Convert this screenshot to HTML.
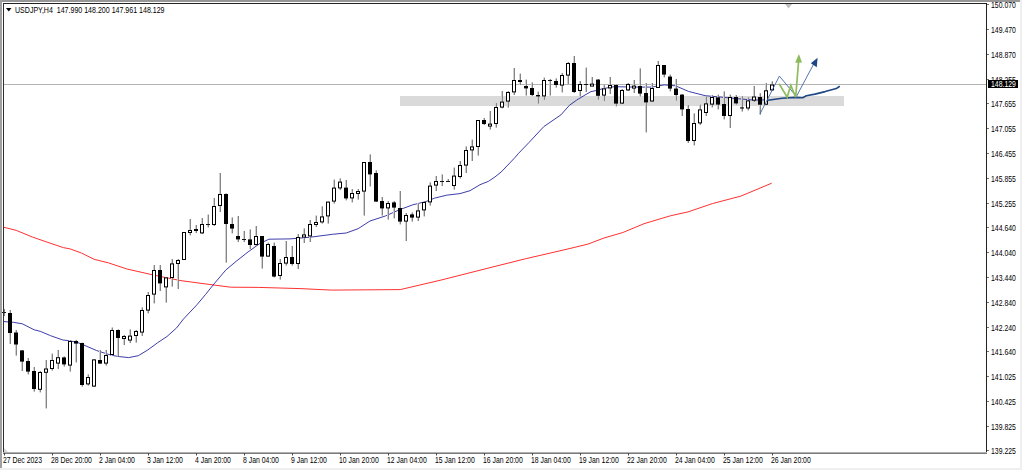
<!DOCTYPE html>
<html><head><meta charset="utf-8"><style>
html,body{margin:0;padding:0;width:1022px;height:470px;overflow:hidden;background:#fff}
#wrap{position:relative;width:1022px;height:470px}
svg{position:absolute;left:0;top:0}
.pl,.tl,.title{position:absolute;font-family:"Liberation Sans",sans-serif;font-size:8.6px;line-height:9px;color:#000;white-space:pre;transform:scaleX(0.8);transform-origin:0 0}
.pl{left:990.6px}
.cur{color:#fff}
.tl{top:455.6px}
.title{left:15px;top:5.6px;transform:scaleX(0.82)}
</style></head><body><div id="wrap">
<svg width="1022" height="470" viewBox="0 0 1022 470">
<rect x="0" y="0" width="1022" height="470" fill="#ffffff"/>
<rect x="0" y="0" width="1020" height="2" fill="#979797"/>
<rect x="0" y="0" width="2" height="470" fill="#a0a0a0"/>
<rect x="1020" y="0" width="2" height="470" fill="#efefef"/>
<rect x="0" y="468" width="1022" height="2" fill="#efefef"/>
<rect x="400" y="96" width="444" height="10" fill="#dadada"/>
<rect x="4" y="84" width="982" height="1" fill="#b4b4b4"/>
<polyline points="4.0,227.3 16.3,230.4 32.6,237.1 47.0,242.1 63.3,247.6 70.5,249.0 81.4,253.0 94.1,259.3 108.5,262.9 126.6,268.9 152.0,274.7 180.0,280.5 200.0,283.2 230.5,287.2 258.7,287.4 300.0,288.6 331.3,290.1 400.2,289.6 440.9,280.1 487.9,268.2 525.4,258.8 566.1,249.4 588.0,244.1 604.0,238.0 622.9,232.5 644.0,223.7 670.4,215.8 688.0,211.9 712.7,203.5 740.9,196.1 771.7,183.2" fill="none" stroke="#ff3030" stroke-width="1"/>
<polyline points="4.0,321.6 13.4,322.3 22.3,323.8 34.2,329.8 40.2,331.3 50.6,335.7 62.5,339.9 69.9,340.9 77.4,342.4 86.3,346.1 96.7,350.6 111.5,355.3 119.2,356.6 128.7,357.6 138.3,355.7 147.9,349.9 157.5,342.8 167.0,336.5 176.6,327.9 183.4,319.1 197.0,304.7 205.5,294.5 214.0,283.9 226.0,269.8 236.2,261.3 248.1,251.9 260.0,243.4 269.0,239.2 290.0,238.9 310.4,237.2 332.5,234.3 346.2,233.0 358.1,228.7 370.0,221.0 385.3,216.0 398.9,210.0 412.5,204.9 426.1,201.5 434.7,198.1 446.6,195.2 460.0,193.6 470.0,190.7 480.0,184.7 488.5,181.3 494.9,177.0 501.3,171.9 515.1,157.4 518.3,153.6 528.9,142.6 543.8,126.6 560.9,114.9 569.4,105.3 576.8,100.0 585.0,95.0 591.0,91.6 596.0,90.6 603.0,88.6 614.2,86.7 636.5,87.1 651.3,87.1 664.4,84.9 675.5,85.8 688.5,91.4 705.2,95.7 720.1,97.0 738.7,98.8 753.6,100.1 768.0,99.8" fill="none" stroke="#2727a0" stroke-width="0.9"/>
<rect x="4" y="309.0" width="1" height="7.0" fill="#858585"/>
<rect x="3" y="309.0" width="1" height="7.0" fill="#d0d0d0"/>
<rect x="2" y="312" width="4" height="1" fill="#111"/>
<rect x="10" y="310.0" width="1" height="34.0" fill="#858585"/>
<rect x="9" y="310.0" width="1" height="34.0" fill="#d0d0d0"/>
<rect x="8" y="313.0" width="4" height="20.0" fill="#000"/>
<rect x="16" y="330.0" width="1" height="25.600000000000023" fill="#858585"/>
<rect x="15" y="330.0" width="1" height="25.600000000000023" fill="#d0d0d0"/>
<rect x="14" y="332.5" width="4" height="12.0" fill="#000"/>
<rect x="22" y="350.0" width="1" height="21.0" fill="#858585"/>
<rect x="21" y="350.0" width="1" height="21.0" fill="#d0d0d0"/>
<rect x="20" y="350.4" width="4" height="11.200000000000045" fill="#000"/>
<rect x="28" y="358.0" width="1" height="16.399999999999977" fill="#858585"/>
<rect x="27" y="358.0" width="1" height="16.399999999999977" fill="#d0d0d0"/>
<rect x="26" y="361.0" width="4" height="10.600000000000023" fill="#000"/>
<rect x="34" y="367.0" width="1" height="24.600000000000023" fill="#858585"/>
<rect x="33" y="367.0" width="1" height="24.600000000000023" fill="#d0d0d0"/>
<rect x="32" y="371.0" width="4" height="18.0" fill="#000"/>
<rect x="40" y="371.0" width="1" height="21.399999999999977" fill="#858585"/>
<rect x="39" y="371.0" width="1" height="21.399999999999977" fill="#d0d0d0"/>
<rect x="38.5" y="372.5" width="3" height="16.80000000000001" fill="#fff" stroke="#000" stroke-width="1"/>
<rect x="46" y="360.0" width="1" height="48.39999999999998" fill="#858585"/>
<rect x="45" y="360.0" width="1" height="48.39999999999998" fill="#d0d0d0"/>
<rect x="44.5" y="369.0" width="3" height="3.3000000000000114" fill="#fff" stroke="#000" stroke-width="1"/>
<rect x="52" y="353.6" width="1" height="17.0" fill="#858585"/>
<rect x="51" y="353.6" width="1" height="17.0" fill="#d0d0d0"/>
<rect x="50.5" y="360.5" width="3" height="8.0" fill="#fff" stroke="#000" stroke-width="1"/>
<rect x="58" y="350.0" width="1" height="19.0" fill="#858585"/>
<rect x="57" y="350.0" width="1" height="19.0" fill="#d0d0d0"/>
<rect x="56.5" y="357.7" width="3" height="5.400000000000034" fill="#fff" stroke="#000" stroke-width="1"/>
<rect x="64" y="356.4" width="1" height="10.200000000000045" fill="#858585"/>
<rect x="63" y="356.4" width="1" height="10.200000000000045" fill="#d0d0d0"/>
<rect x="62" y="357.4" width="4" height="7.0" fill="#000"/>
<rect x="70" y="340.0" width="1" height="31.600000000000023" fill="#858585"/>
<rect x="69" y="340.0" width="1" height="31.600000000000023" fill="#d0d0d0"/>
<rect x="68.5" y="341.5" width="3" height="23.600000000000023" fill="#fff" stroke="#000" stroke-width="1"/>
<rect x="76" y="340.0" width="1" height="22.399999999999977" fill="#858585"/>
<rect x="75" y="340.0" width="1" height="22.399999999999977" fill="#d0d0d0"/>
<rect x="74" y="341.0" width="4" height="2.6000000000000227" fill="#000"/>
<rect x="82" y="342.6" width="1" height="44.0" fill="#858585"/>
<rect x="81" y="342.6" width="1" height="44.0" fill="#d0d0d0"/>
<rect x="80" y="343.0" width="4" height="42.0" fill="#000"/>
<rect x="88" y="374.4" width="1" height="11.200000000000045" fill="#858585"/>
<rect x="87" y="374.4" width="1" height="11.200000000000045" fill="#d0d0d0"/>
<rect x="86.5" y="377.5" width="3" height="6.399999999999977" fill="#fff" stroke="#000" stroke-width="1"/>
<rect x="94" y="359.0" width="1" height="28.0" fill="#858585"/>
<rect x="93" y="359.0" width="1" height="28.0" fill="#d0d0d0"/>
<rect x="92.5" y="359.9" width="3" height="26.200000000000045" fill="#fff" stroke="#000" stroke-width="1"/>
<rect x="100" y="350.0" width="1" height="14.0" fill="#858585"/>
<rect x="99" y="350.0" width="1" height="14.0" fill="#d0d0d0"/>
<rect x="98" y="360.0" width="4" height="3.6000000000000227" fill="#000"/>
<rect x="106" y="350.0" width="1" height="15.600000000000023" fill="#858585"/>
<rect x="105" y="350.0" width="1" height="15.600000000000023" fill="#d0d0d0"/>
<rect x="104.5" y="355.5" width="3" height="7.600000000000023" fill="#fff" stroke="#000" stroke-width="1"/>
<rect x="112" y="327.5" width="1" height="28.5" fill="#858585"/>
<rect x="111" y="327.5" width="1" height="28.5" fill="#d0d0d0"/>
<rect x="110.5" y="330.5" width="3" height="24.0" fill="#fff" stroke="#000" stroke-width="1"/>
<rect x="118" y="329.4" width="1" height="27.0" fill="#858585"/>
<rect x="117" y="329.4" width="1" height="27.0" fill="#d0d0d0"/>
<rect x="116" y="330.0" width="4" height="8.0" fill="#000"/>
<rect x="124" y="335.0" width="1" height="10.0" fill="#858585"/>
<rect x="123" y="335.0" width="1" height="10.0" fill="#d0d0d0"/>
<rect x="122.5" y="336.5" width="3" height="2" fill="#fff" stroke="#000" stroke-width="1"/>
<rect x="130" y="329.4" width="1" height="13.600000000000023" fill="#858585"/>
<rect x="129" y="329.4" width="1" height="13.600000000000023" fill="#d0d0d0"/>
<rect x="128.5" y="336.1" width="3" height="4.0" fill="#fff" stroke="#000" stroke-width="1"/>
<rect x="136" y="330.0" width="1" height="12.600000000000023" fill="#858585"/>
<rect x="135" y="330.0" width="1" height="12.600000000000023" fill="#d0d0d0"/>
<rect x="134.5" y="331.5" width="3" height="4.0" fill="#fff" stroke="#000" stroke-width="1"/>
<rect x="142" y="307.4" width="1" height="28.600000000000023" fill="#858585"/>
<rect x="141" y="307.4" width="1" height="28.600000000000023" fill="#d0d0d0"/>
<rect x="140.5" y="310.5" width="3" height="21.600000000000023" fill="#fff" stroke="#000" stroke-width="1"/>
<rect x="148" y="292.0" width="1" height="21.399999999999977" fill="#858585"/>
<rect x="147" y="292.0" width="1" height="21.399999999999977" fill="#d0d0d0"/>
<rect x="146.5" y="295.5" width="3" height="14.600000000000023" fill="#fff" stroke="#000" stroke-width="1"/>
<rect x="154" y="265.0" width="1" height="38.39999999999998" fill="#858585"/>
<rect x="153" y="265.0" width="1" height="38.39999999999998" fill="#d0d0d0"/>
<rect x="152.5" y="270.5" width="3" height="23.600000000000023" fill="#fff" stroke="#000" stroke-width="1"/>
<rect x="160" y="265.0" width="1" height="26.0" fill="#858585"/>
<rect x="159" y="265.0" width="1" height="26.0" fill="#d0d0d0"/>
<rect x="158" y="270.0" width="4" height="13.399999999999977" fill="#000"/>
<rect x="166" y="277.4" width="1" height="25.200000000000045" fill="#858585"/>
<rect x="165" y="277.4" width="1" height="25.200000000000045" fill="#d0d0d0"/>
<rect x="164.5" y="277.9" width="3" height="9.0" fill="#fff" stroke="#000" stroke-width="1"/>
<rect x="172" y="259.0" width="1" height="27.600000000000023" fill="#858585"/>
<rect x="171" y="259.0" width="1" height="27.600000000000023" fill="#d0d0d0"/>
<rect x="170.5" y="263.9" width="3" height="13.600000000000023" fill="#fff" stroke="#000" stroke-width="1"/>
<rect x="178" y="259.0" width="1" height="30.0" fill="#858585"/>
<rect x="177" y="259.0" width="1" height="30.0" fill="#d0d0d0"/>
<rect x="176.5" y="260.5" width="3" height="3.0" fill="#fff" stroke="#000" stroke-width="1"/>
<rect x="184" y="232.0" width="1" height="28.0" fill="#858585"/>
<rect x="183" y="232.0" width="1" height="28.0" fill="#d0d0d0"/>
<rect x="182.5" y="232.5" width="3" height="27.0" fill="#fff" stroke="#000" stroke-width="1"/>
<rect x="190" y="219.0" width="1" height="16.400000000000006" fill="#858585"/>
<rect x="189" y="219.0" width="1" height="16.400000000000006" fill="#d0d0d0"/>
<rect x="188.5" y="230.5" width="3" height="2" fill="#fff" stroke="#000" stroke-width="1"/>
<rect x="196" y="225.0" width="1" height="8.0" fill="#858585"/>
<rect x="195" y="225.0" width="1" height="8.0" fill="#d0d0d0"/>
<rect x="194" y="229.0" width="4" height="2.0" fill="#000"/>
<rect x="202" y="218.0" width="1" height="16.0" fill="#858585"/>
<rect x="201" y="218.0" width="1" height="16.0" fill="#d0d0d0"/>
<rect x="200.5" y="224.5" width="3" height="8.400000000000006" fill="#fff" stroke="#000" stroke-width="1"/>
<rect x="208" y="214.6" width="1" height="12.800000000000011" fill="#858585"/>
<rect x="207" y="214.6" width="1" height="12.800000000000011" fill="#d0d0d0"/>
<rect x="206" y="224" width="4" height="1" fill="#111"/>
<rect x="214" y="198.0" width="1" height="28.0" fill="#858585"/>
<rect x="213" y="198.0" width="1" height="28.0" fill="#d0d0d0"/>
<rect x="212.5" y="206.5" width="3" height="18.0" fill="#fff" stroke="#000" stroke-width="1"/>
<rect x="220" y="173.0" width="1" height="39.0" fill="#858585"/>
<rect x="219" y="173.0" width="1" height="39.0" fill="#d0d0d0"/>
<rect x="218.5" y="194.5" width="3" height="11.0" fill="#fff" stroke="#000" stroke-width="1"/>
<rect x="226" y="193.4" width="1" height="69.20000000000002" fill="#858585"/>
<rect x="225" y="193.4" width="1" height="69.20000000000002" fill="#d0d0d0"/>
<rect x="224" y="194.0" width="4" height="30.0" fill="#000"/>
<rect x="232" y="217.4" width="1" height="16.0" fill="#858585"/>
<rect x="231" y="217.4" width="1" height="16.0" fill="#d0d0d0"/>
<rect x="230" y="224.0" width="4" height="4.599999999999994" fill="#000"/>
<rect x="238" y="216.0" width="1" height="26.0" fill="#858585"/>
<rect x="237" y="216.0" width="1" height="26.0" fill="#d0d0d0"/>
<rect x="236" y="236.0" width="4" height="3.4000000000000057" fill="#000"/>
<rect x="244" y="231.0" width="1" height="11.0" fill="#858585"/>
<rect x="243" y="231.0" width="1" height="11.0" fill="#d0d0d0"/>
<rect x="242" y="239" width="4" height="1" fill="#111"/>
<rect x="250" y="229.4" width="1" height="19.599999999999994" fill="#858585"/>
<rect x="249" y="229.4" width="1" height="19.599999999999994" fill="#d0d0d0"/>
<rect x="248" y="239.4" width="4" height="5.599999999999994" fill="#000"/>
<rect x="256" y="226.0" width="1" height="20.0" fill="#858585"/>
<rect x="255" y="226.0" width="1" height="20.0" fill="#d0d0d0"/>
<rect x="254.5" y="236.5" width="3" height="8.0" fill="#fff" stroke="#000" stroke-width="1"/>
<rect x="262" y="236.0" width="1" height="32.60000000000002" fill="#858585"/>
<rect x="261" y="236.0" width="1" height="32.60000000000002" fill="#d0d0d0"/>
<rect x="260" y="236.0" width="4" height="20.600000000000023" fill="#000"/>
<rect x="268" y="242.6" width="1" height="14.400000000000006" fill="#858585"/>
<rect x="267" y="242.6" width="1" height="14.400000000000006" fill="#d0d0d0"/>
<rect x="266.5" y="244.5" width="3" height="11.600000000000023" fill="#fff" stroke="#000" stroke-width="1"/>
<rect x="274" y="242.6" width="1" height="34.79999999999998" fill="#858585"/>
<rect x="273" y="242.6" width="1" height="34.79999999999998" fill="#d0d0d0"/>
<rect x="272" y="246.0" width="4" height="30.600000000000023" fill="#000"/>
<rect x="280" y="259.0" width="1" height="20.600000000000023" fill="#858585"/>
<rect x="279" y="259.0" width="1" height="20.600000000000023" fill="#d0d0d0"/>
<rect x="278.5" y="263.5" width="3" height="12.0" fill="#fff" stroke="#000" stroke-width="1"/>
<rect x="286" y="241.0" width="1" height="24.600000000000023" fill="#858585"/>
<rect x="285" y="241.0" width="1" height="24.600000000000023" fill="#d0d0d0"/>
<rect x="284.5" y="257.5" width="3" height="5.600000000000023" fill="#fff" stroke="#000" stroke-width="1"/>
<rect x="292" y="246.0" width="1" height="19.600000000000023" fill="#858585"/>
<rect x="291" y="246.0" width="1" height="19.600000000000023" fill="#d0d0d0"/>
<rect x="290" y="257.0" width="4" height="7.0" fill="#000"/>
<rect x="298" y="234.0" width="1" height="35.0" fill="#858585"/>
<rect x="297" y="234.0" width="1" height="35.0" fill="#d0d0d0"/>
<rect x="296.5" y="237.5" width="3" height="26.0" fill="#fff" stroke="#000" stroke-width="1"/>
<rect x="304" y="228.4" width="1" height="14.599999999999994" fill="#858585"/>
<rect x="303" y="228.4" width="1" height="14.599999999999994" fill="#d0d0d0"/>
<rect x="302.5" y="234.9" width="3" height="2.1999999999999886" fill="#fff" stroke="#000" stroke-width="1"/>
<rect x="310" y="220.0" width="1" height="22.0" fill="#858585"/>
<rect x="309" y="220.0" width="1" height="22.0" fill="#d0d0d0"/>
<rect x="308.5" y="224.5" width="3" height="11.400000000000006" fill="#fff" stroke="#000" stroke-width="1"/>
<rect x="316" y="215.6" width="1" height="11.400000000000006" fill="#858585"/>
<rect x="315" y="215.6" width="1" height="11.400000000000006" fill="#d0d0d0"/>
<rect x="314.5" y="222.5" width="3" height="2" fill="#fff" stroke="#000" stroke-width="1"/>
<rect x="322" y="206.4" width="1" height="17.19999999999999" fill="#858585"/>
<rect x="321" y="206.4" width="1" height="17.19999999999999" fill="#d0d0d0"/>
<rect x="320.5" y="216.9" width="3" height="5.0" fill="#fff" stroke="#000" stroke-width="1"/>
<rect x="328" y="201.6" width="1" height="22.0" fill="#858585"/>
<rect x="327" y="201.6" width="1" height="22.0" fill="#d0d0d0"/>
<rect x="326.5" y="202.1" width="3" height="13.800000000000011" fill="#fff" stroke="#000" stroke-width="1"/>
<rect x="334" y="179.6" width="1" height="24.0" fill="#858585"/>
<rect x="333" y="179.6" width="1" height="24.0" fill="#d0d0d0"/>
<rect x="332.5" y="188.1" width="3" height="13.0" fill="#fff" stroke="#000" stroke-width="1"/>
<rect x="340" y="178.4" width="1" height="11.599999999999994" fill="#858585"/>
<rect x="339" y="178.4" width="1" height="11.599999999999994" fill="#d0d0d0"/>
<rect x="338.5" y="182.1" width="3" height="5.800000000000011" fill="#fff" stroke="#000" stroke-width="1"/>
<rect x="346" y="180.0" width="1" height="20.400000000000006" fill="#858585"/>
<rect x="345" y="180.0" width="1" height="20.400000000000006" fill="#d0d0d0"/>
<rect x="344" y="187.6" width="4" height="10.800000000000011" fill="#000"/>
<rect x="352" y="189.0" width="1" height="13.400000000000006" fill="#858585"/>
<rect x="351" y="189.0" width="1" height="13.400000000000006" fill="#d0d0d0"/>
<rect x="350.5" y="193.5" width="3" height="4.400000000000006" fill="#fff" stroke="#000" stroke-width="1"/>
<rect x="358" y="189.0" width="1" height="10.599999999999994" fill="#858585"/>
<rect x="357" y="189.0" width="1" height="10.599999999999994" fill="#d0d0d0"/>
<rect x="356.5" y="191.5" width="3" height="2" fill="#fff" stroke="#000" stroke-width="1"/>
<rect x="364" y="162.0" width="1" height="53.599999999999994" fill="#858585"/>
<rect x="363" y="162.0" width="1" height="53.599999999999994" fill="#d0d0d0"/>
<rect x="362.5" y="162.5" width="3" height="28.599999999999994" fill="#fff" stroke="#000" stroke-width="1"/>
<rect x="370" y="154.4" width="1" height="32.0" fill="#858585"/>
<rect x="369" y="154.4" width="1" height="32.0" fill="#d0d0d0"/>
<rect x="368" y="162.0" width="4" height="12.400000000000006" fill="#000"/>
<rect x="376" y="170.4" width="1" height="31.599999999999994" fill="#858585"/>
<rect x="375" y="170.4" width="1" height="31.599999999999994" fill="#d0d0d0"/>
<rect x="374" y="173.0" width="4" height="28.599999999999994" fill="#000"/>
<rect x="382" y="197.0" width="1" height="18.599999999999994" fill="#858585"/>
<rect x="381" y="197.0" width="1" height="18.599999999999994" fill="#d0d0d0"/>
<rect x="380" y="201.0" width="4" height="7.400000000000006" fill="#000"/>
<rect x="388" y="201.0" width="1" height="18.599999999999994" fill="#858585"/>
<rect x="387" y="201.0" width="1" height="18.599999999999994" fill="#d0d0d0"/>
<rect x="386.5" y="203.5" width="3" height="4.400000000000006" fill="#fff" stroke="#000" stroke-width="1"/>
<rect x="394" y="201.0" width="1" height="17.400000000000006" fill="#858585"/>
<rect x="393" y="201.0" width="1" height="17.400000000000006" fill="#d0d0d0"/>
<rect x="392" y="202.4" width="4" height="5.199999999999989" fill="#000"/>
<rect x="400" y="191.0" width="1" height="33.400000000000006" fill="#858585"/>
<rect x="399" y="191.0" width="1" height="33.400000000000006" fill="#d0d0d0"/>
<rect x="398" y="208.0" width="4" height="13.599999999999994" fill="#000"/>
<rect x="406" y="213.0" width="1" height="28.0" fill="#858585"/>
<rect x="405" y="213.0" width="1" height="28.0" fill="#d0d0d0"/>
<rect x="404.5" y="215.5" width="3" height="5.599999999999994" fill="#fff" stroke="#000" stroke-width="1"/>
<rect x="412" y="212.4" width="1" height="9.199999999999989" fill="#858585"/>
<rect x="411" y="212.4" width="1" height="9.199999999999989" fill="#d0d0d0"/>
<rect x="410" y="214.4" width="4" height="3.1999999999999886" fill="#000"/>
<rect x="418" y="203.0" width="1" height="18.0" fill="#858585"/>
<rect x="417" y="203.0" width="1" height="18.0" fill="#d0d0d0"/>
<rect x="416.5" y="210.9" width="3" height="6.199999999999989" fill="#fff" stroke="#000" stroke-width="1"/>
<rect x="424" y="201.0" width="1" height="15.400000000000006" fill="#858585"/>
<rect x="423" y="201.0" width="1" height="15.400000000000006" fill="#d0d0d0"/>
<rect x="422.5" y="202.5" width="3" height="7.400000000000006" fill="#fff" stroke="#000" stroke-width="1"/>
<rect x="430" y="182.4" width="1" height="23.19999999999999" fill="#858585"/>
<rect x="429" y="182.4" width="1" height="23.19999999999999" fill="#d0d0d0"/>
<rect x="428.5" y="186.1" width="3" height="15.800000000000011" fill="#fff" stroke="#000" stroke-width="1"/>
<rect x="436" y="176.0" width="1" height="15.0" fill="#858585"/>
<rect x="435" y="176.0" width="1" height="15.0" fill="#d0d0d0"/>
<rect x="434.5" y="181.5" width="3" height="3.5999999999999943" fill="#fff" stroke="#000" stroke-width="1"/>
<rect x="442" y="174.4" width="1" height="11.599999999999994" fill="#858585"/>
<rect x="441" y="174.4" width="1" height="11.599999999999994" fill="#d0d0d0"/>
<rect x="440" y="181" width="4" height="1" fill="#111"/>
<rect x="448" y="179.0" width="1" height="3.0" fill="#858585"/>
<rect x="447" y="179.0" width="1" height="3.0" fill="#d0d0d0"/>
<rect x="446" y="181" width="4" height="1" fill="#111"/>
<rect x="454" y="167.6" width="1" height="22.0" fill="#858585"/>
<rect x="453" y="167.6" width="1" height="22.0" fill="#d0d0d0"/>
<rect x="452.5" y="176.1" width="3" height="9.400000000000006" fill="#fff" stroke="#000" stroke-width="1"/>
<rect x="460" y="161.0" width="1" height="17.5" fill="#858585"/>
<rect x="459" y="161.0" width="1" height="17.5" fill="#d0d0d0"/>
<rect x="458.5" y="165.5" width="3" height="11.0" fill="#fff" stroke="#000" stroke-width="1"/>
<rect x="466" y="146.4" width="1" height="26.599999999999994" fill="#858585"/>
<rect x="465" y="146.4" width="1" height="26.599999999999994" fill="#d0d0d0"/>
<rect x="464.5" y="150.5" width="3" height="14.599999999999994" fill="#fff" stroke="#000" stroke-width="1"/>
<rect x="472" y="139.6" width="1" height="21.400000000000006" fill="#858585"/>
<rect x="471" y="139.6" width="1" height="21.400000000000006" fill="#d0d0d0"/>
<rect x="470.5" y="146.9" width="3" height="3.0" fill="#fff" stroke="#000" stroke-width="1"/>
<rect x="478" y="120.0" width="1" height="35.599999999999994" fill="#858585"/>
<rect x="477" y="120.0" width="1" height="35.599999999999994" fill="#d0d0d0"/>
<rect x="476.5" y="120.5" width="3" height="26.0" fill="#fff" stroke="#000" stroke-width="1"/>
<rect x="484" y="118.0" width="1" height="7.0" fill="#858585"/>
<rect x="483" y="118.0" width="1" height="7.0" fill="#d0d0d0"/>
<rect x="482" y="120.0" width="4" height="4.0" fill="#000"/>
<rect x="490" y="111.0" width="1" height="18.599999999999994" fill="#858585"/>
<rect x="489" y="111.0" width="1" height="18.599999999999994" fill="#d0d0d0"/>
<rect x="488.5" y="124.1" width="3" height="2" fill="#fff" stroke="#000" stroke-width="1"/>
<rect x="496" y="103.0" width="1" height="24.599999999999994" fill="#858585"/>
<rect x="495" y="103.0" width="1" height="24.599999999999994" fill="#d0d0d0"/>
<rect x="494.5" y="107.5" width="3" height="16.0" fill="#fff" stroke="#000" stroke-width="1"/>
<rect x="502" y="91.0" width="1" height="17.400000000000006" fill="#858585"/>
<rect x="501" y="91.0" width="1" height="17.400000000000006" fill="#d0d0d0"/>
<rect x="500.5" y="102.1" width="3" height="5.0" fill="#fff" stroke="#000" stroke-width="1"/>
<rect x="508" y="91.0" width="1" height="16.599999999999994" fill="#858585"/>
<rect x="507" y="91.0" width="1" height="16.599999999999994" fill="#d0d0d0"/>
<rect x="506.5" y="92.5" width="3" height="8.599999999999994" fill="#fff" stroke="#000" stroke-width="1"/>
<rect x="514" y="68.0" width="1" height="27.0" fill="#858585"/>
<rect x="513" y="68.0" width="1" height="27.0" fill="#d0d0d0"/>
<rect x="512.5" y="80.5" width="3" height="11.400000000000006" fill="#fff" stroke="#000" stroke-width="1"/>
<rect x="520" y="73.6" width="1" height="11.400000000000006" fill="#858585"/>
<rect x="519" y="73.6" width="1" height="11.400000000000006" fill="#d0d0d0"/>
<rect x="518" y="80.0" width="4" height="2.0" fill="#000"/>
<rect x="526" y="79.6" width="1" height="16.0" fill="#858585"/>
<rect x="525" y="79.6" width="1" height="16.0" fill="#d0d0d0"/>
<rect x="524" y="86.0" width="4" height="2.4000000000000057" fill="#000"/>
<rect x="532" y="82.4" width="1" height="13.599999999999994" fill="#858585"/>
<rect x="531" y="82.4" width="1" height="13.599999999999994" fill="#d0d0d0"/>
<rect x="530" y="88.0" width="4" height="7.0" fill="#000"/>
<rect x="538" y="91.6" width="1" height="12.0" fill="#858585"/>
<rect x="537" y="91.6" width="1" height="12.0" fill="#d0d0d0"/>
<rect x="536" y="95.0" width="4" height="1.4000000000000057" fill="#000"/>
<rect x="544" y="77.6" width="1" height="22.400000000000006" fill="#858585"/>
<rect x="543" y="77.6" width="1" height="22.400000000000006" fill="#d0d0d0"/>
<rect x="542.5" y="80.5" width="3" height="15.400000000000006" fill="#fff" stroke="#000" stroke-width="1"/>
<rect x="550" y="79.0" width="1" height="16.599999999999994" fill="#858585"/>
<rect x="549" y="79.0" width="1" height="16.599999999999994" fill="#d0d0d0"/>
<rect x="548" y="80" width="4" height="1" fill="#111"/>
<rect x="556" y="78.4" width="1" height="9.199999999999989" fill="#858585"/>
<rect x="555" y="78.4" width="1" height="9.199999999999989" fill="#d0d0d0"/>
<rect x="554" y="81.0" width="4" height="4.0" fill="#000"/>
<rect x="562" y="73.0" width="1" height="19.400000000000006" fill="#858585"/>
<rect x="561" y="73.0" width="1" height="19.400000000000006" fill="#d0d0d0"/>
<rect x="560.5" y="75.5" width="3" height="9.599999999999994" fill="#fff" stroke="#000" stroke-width="1"/>
<rect x="568" y="62.0" width="1" height="22.0" fill="#858585"/>
<rect x="567" y="62.0" width="1" height="22.0" fill="#d0d0d0"/>
<rect x="566.5" y="63.5" width="3" height="11.599999999999994" fill="#fff" stroke="#000" stroke-width="1"/>
<rect x="574" y="56.0" width="1" height="37.0" fill="#858585"/>
<rect x="573" y="56.0" width="1" height="37.0" fill="#d0d0d0"/>
<rect x="572" y="63.0" width="4" height="29.0" fill="#000"/>
<rect x="580" y="81.0" width="1" height="15.400000000000006" fill="#858585"/>
<rect x="579" y="81.0" width="1" height="15.400000000000006" fill="#d0d0d0"/>
<rect x="578.5" y="84.5" width="3" height="6.0" fill="#fff" stroke="#000" stroke-width="1"/>
<rect x="586" y="67.6" width="1" height="24.400000000000006" fill="#858585"/>
<rect x="585" y="67.6" width="1" height="24.400000000000006" fill="#d0d0d0"/>
<rect x="584" y="84" width="4" height="1" fill="#111"/>
<rect x="592" y="77.0" width="1" height="9.0" fill="#858585"/>
<rect x="591" y="77.0" width="1" height="9.0" fill="#d0d0d0"/>
<rect x="590.5" y="84.1" width="3" height="2" fill="#fff" stroke="#000" stroke-width="1"/>
<rect x="598" y="79.0" width="1" height="20.599999999999994" fill="#858585"/>
<rect x="597" y="79.0" width="1" height="20.599999999999994" fill="#d0d0d0"/>
<rect x="596" y="79.6" width="4" height="16.200000000000003" fill="#000"/>
<rect x="604" y="85.0" width="1" height="16.0" fill="#858585"/>
<rect x="603" y="85.0" width="1" height="16.0" fill="#d0d0d0"/>
<rect x="602.5" y="88.9" width="3" height="6.199999999999989" fill="#fff" stroke="#000" stroke-width="1"/>
<rect x="610" y="77.0" width="1" height="17.0" fill="#858585"/>
<rect x="609" y="77.0" width="1" height="17.0" fill="#d0d0d0"/>
<rect x="608.5" y="85.5" width="3" height="2.4000000000000057" fill="#fff" stroke="#000" stroke-width="1"/>
<rect x="616" y="84.4" width="1" height="22.0" fill="#858585"/>
<rect x="615" y="84.4" width="1" height="22.0" fill="#d0d0d0"/>
<rect x="614" y="85.0" width="4" height="18.599999999999994" fill="#000"/>
<rect x="622" y="89.0" width="1" height="15.0" fill="#858585"/>
<rect x="621" y="89.0" width="1" height="15.0" fill="#d0d0d0"/>
<rect x="620.5" y="90.5" width="3" height="12.599999999999994" fill="#fff" stroke="#000" stroke-width="1"/>
<rect x="628" y="83.0" width="1" height="8.0" fill="#858585"/>
<rect x="627" y="83.0" width="1" height="8.0" fill="#d0d0d0"/>
<rect x="626.5" y="84.5" width="3" height="5.400000000000006" fill="#fff" stroke="#000" stroke-width="1"/>
<rect x="634" y="80.0" width="1" height="13.0" fill="#858585"/>
<rect x="633" y="80.0" width="1" height="13.0" fill="#d0d0d0"/>
<rect x="632.5" y="86.1" width="3" height="2" fill="#fff" stroke="#000" stroke-width="1"/>
<rect x="640" y="68.4" width="1" height="28.0" fill="#858585"/>
<rect x="639" y="68.4" width="1" height="28.0" fill="#d0d0d0"/>
<rect x="638" y="86.0" width="4" height="7.599999999999994" fill="#000"/>
<rect x="646" y="83.0" width="1" height="49.400000000000006" fill="#858585"/>
<rect x="645" y="83.0" width="1" height="49.400000000000006" fill="#d0d0d0"/>
<rect x="644" y="93.0" width="4" height="9.400000000000006" fill="#000"/>
<rect x="652" y="83.0" width="1" height="19.0" fill="#858585"/>
<rect x="651" y="83.0" width="1" height="19.0" fill="#d0d0d0"/>
<rect x="650.5" y="88.5" width="3" height="12.5" fill="#fff" stroke="#000" stroke-width="1"/>
<rect x="658" y="61.0" width="1" height="27.0" fill="#858585"/>
<rect x="657" y="61.0" width="1" height="27.0" fill="#d0d0d0"/>
<rect x="656.5" y="65.5" width="3" height="22.0" fill="#fff" stroke="#000" stroke-width="1"/>
<rect x="664" y="65.0" width="1" height="12.400000000000006" fill="#858585"/>
<rect x="663" y="65.0" width="1" height="12.400000000000006" fill="#d0d0d0"/>
<rect x="662" y="65.0" width="4" height="9.599999999999994" fill="#000"/>
<rect x="670" y="74.6" width="1" height="16.80000000000001" fill="#858585"/>
<rect x="669" y="74.6" width="1" height="16.80000000000001" fill="#d0d0d0"/>
<rect x="668" y="76.6" width="4" height="12.0" fill="#000"/>
<rect x="676" y="79.0" width="1" height="21.599999999999994" fill="#858585"/>
<rect x="675" y="79.0" width="1" height="21.599999999999994" fill="#d0d0d0"/>
<rect x="674" y="88.6" width="4" height="6.400000000000006" fill="#000"/>
<rect x="682" y="94.0" width="1" height="22.0" fill="#858585"/>
<rect x="681" y="94.0" width="1" height="22.0" fill="#d0d0d0"/>
<rect x="680" y="94.6" width="4" height="14.800000000000011" fill="#000"/>
<rect x="688" y="105.0" width="1" height="38.0" fill="#858585"/>
<rect x="687" y="105.0" width="1" height="38.0" fill="#d0d0d0"/>
<rect x="686" y="109.0" width="4" height="32.0" fill="#000"/>
<rect x="694" y="113.4" width="1" height="32.0" fill="#858585"/>
<rect x="693" y="113.4" width="1" height="32.0" fill="#d0d0d0"/>
<rect x="692.5" y="123.5" width="3" height="17.0" fill="#fff" stroke="#000" stroke-width="1"/>
<rect x="700" y="104.6" width="1" height="20.400000000000006" fill="#858585"/>
<rect x="699" y="104.6" width="1" height="20.400000000000006" fill="#d0d0d0"/>
<rect x="698.5" y="109.9" width="3" height="13.0" fill="#fff" stroke="#000" stroke-width="1"/>
<rect x="706" y="96.6" width="1" height="19.400000000000006" fill="#858585"/>
<rect x="705" y="96.6" width="1" height="19.400000000000006" fill="#d0d0d0"/>
<rect x="704.5" y="103.9" width="3" height="8.599999999999994" fill="#fff" stroke="#000" stroke-width="1"/>
<rect x="712" y="95.0" width="1" height="12.400000000000006" fill="#858585"/>
<rect x="711" y="95.0" width="1" height="12.400000000000006" fill="#d0d0d0"/>
<rect x="710.5" y="97.5" width="3" height="6.599999999999994" fill="#fff" stroke="#000" stroke-width="1"/>
<rect x="718" y="94.6" width="1" height="14.800000000000011" fill="#858585"/>
<rect x="717" y="94.6" width="1" height="14.800000000000011" fill="#d0d0d0"/>
<rect x="716" y="97.4" width="4" height="7.199999999999989" fill="#000"/>
<rect x="724" y="91.4" width="1" height="28.0" fill="#858585"/>
<rect x="723" y="91.4" width="1" height="28.0" fill="#d0d0d0"/>
<rect x="722" y="104.0" width="4" height="12.0" fill="#000"/>
<rect x="730" y="94.6" width="1" height="33.400000000000006" fill="#858585"/>
<rect x="729" y="94.6" width="1" height="33.400000000000006" fill="#d0d0d0"/>
<rect x="728.5" y="97.5" width="3" height="18.0" fill="#fff" stroke="#000" stroke-width="1"/>
<rect x="736" y="95.0" width="1" height="9.599999999999994" fill="#858585"/>
<rect x="735" y="95.0" width="1" height="9.599999999999994" fill="#d0d0d0"/>
<rect x="734" y="97.0" width="4" height="6.400000000000006" fill="#000"/>
<rect x="742" y="96.2" width="1" height="15.399999999999991" fill="#858585"/>
<rect x="741" y="96.2" width="1" height="15.399999999999991" fill="#d0d0d0"/>
<rect x="740" y="107.4" width="4" height="1.0999999999999943" fill="#000"/>
<rect x="748" y="97.4" width="1" height="13.099999999999994" fill="#858585"/>
<rect x="747" y="97.4" width="1" height="13.099999999999994" fill="#d0d0d0"/>
<rect x="746.5" y="100.9" width="3" height="7.099999999999994" fill="#fff" stroke="#000" stroke-width="1"/>
<rect x="754" y="86.0" width="1" height="16.0" fill="#858585"/>
<rect x="753" y="86.0" width="1" height="16.0" fill="#d0d0d0"/>
<rect x="752.5" y="97.0" width="3" height="3.200000000000003" fill="#fff" stroke="#000" stroke-width="1"/>
<rect x="760" y="93.2" width="1" height="21.5" fill="#858585"/>
<rect x="759" y="93.2" width="1" height="21.5" fill="#d0d0d0"/>
<rect x="758" y="97.0" width="4" height="7.700000000000003" fill="#000"/>
<rect x="766" y="83.0" width="1" height="22.0" fill="#858585"/>
<rect x="765" y="83.0" width="1" height="22.0" fill="#d0d0d0"/>
<rect x="764.5" y="90.8" width="3" height="13.400000000000006" fill="#fff" stroke="#000" stroke-width="1"/>
<rect x="772" y="81.3" width="1" height="9.700000000000003" fill="#858585"/>
<rect x="771" y="81.3" width="1" height="9.700000000000003" fill="#d0d0d0"/>
<rect x="770.5" y="85.0" width="3" height="4.900000000000006" fill="#fff" stroke="#000" stroke-width="1"/>
<polyline points="768.0,100.2 782.1,98.3 795.4,97.4 802.7,97.7 806.3,95.8 815.0,94.1 825.2,91.6 836.3,88.6 839.3,86.5" fill="none" stroke="#1f4783" stroke-width="1.6" stroke-linejoin="round" stroke-linecap="round"/>
<polyline points="760,113.9 779.4,76.1 796.4,96.5 814.5,62.5" fill="none" stroke="#4168a6" stroke-width="0.9"/>
<polygon points="817.6,57.8 810.8,63.2 816.8,67.2" fill="#1f4783"/>
<polyline points="779.1,83.7 787.2,97.1 790.8,85.3 795.7,97.1 798.6,61" fill="none" stroke="#8fbd5e" stroke-width="1.7" stroke-linejoin="miter"/>
<polygon points="798.9,54 795.2,62.8 802,62.6" fill="#8cba5a"/>
<polygon points="785,4 792,4 788.5,8.5" fill="#c0c0c0"/>
<polygon points="4,448 4,452 8,452" fill="#d8d8d8"/>
<rect x="3" y="3" width="984" height="1" fill="#222"/>
<rect x="3" y="3" width="1" height="450" fill="#2e2e2e"/>
<rect x="986" y="3" width="1" height="450" fill="#222"/>
<rect x="3" y="452" width="984" height="1" fill="#b0b0b0"/>
<rect x="3" y="453" width="984" height="1" fill="#7c7c7c"/>
<rect x="987" y="4" width="2" height="1" fill="#707070"/>
<rect x="987" y="29" width="2" height="1" fill="#707070"/>
<rect x="987" y="54" width="2" height="1" fill="#707070"/>
<rect x="987" y="79" width="2" height="1" fill="#707070"/>
<rect x="987" y="103" width="2" height="1" fill="#707070"/>
<rect x="987" y="128" width="2" height="1" fill="#707070"/>
<rect x="987" y="153" width="2" height="1" fill="#707070"/>
<rect x="987" y="178" width="2" height="1" fill="#707070"/>
<rect x="987" y="203" width="2" height="1" fill="#707070"/>
<rect x="987" y="227" width="2" height="1" fill="#707070"/>
<rect x="987" y="252" width="2" height="1" fill="#707070"/>
<rect x="987" y="277" width="2" height="1" fill="#707070"/>
<rect x="987" y="302" width="2" height="1" fill="#707070"/>
<rect x="987" y="327" width="2" height="1" fill="#707070"/>
<rect x="987" y="351" width="2" height="1" fill="#707070"/>
<rect x="987" y="376" width="2" height="1" fill="#707070"/>
<rect x="987" y="401" width="2" height="1" fill="#707070"/>
<rect x="987" y="426" width="2" height="1" fill="#707070"/>
<rect x="987" y="450" width="2" height="1" fill="#707070"/>
<rect x="988" y="80" width="30" height="8" fill="#000"/>
<rect x="4" y="453" width="1" height="2" fill="#444"/>
<rect x="4" y="455" width="1" height="1" fill="#aaa"/>
<rect x="52" y="453" width="1" height="2" fill="#444"/>
<rect x="52" y="455" width="1" height="1" fill="#aaa"/>
<rect x="100" y="453" width="1" height="2" fill="#444"/>
<rect x="100" y="455" width="1" height="1" fill="#aaa"/>
<rect x="148" y="453" width="1" height="2" fill="#444"/>
<rect x="148" y="455" width="1" height="1" fill="#aaa"/>
<rect x="196" y="453" width="1" height="2" fill="#444"/>
<rect x="196" y="455" width="1" height="1" fill="#aaa"/>
<rect x="244" y="453" width="1" height="2" fill="#444"/>
<rect x="244" y="455" width="1" height="1" fill="#aaa"/>
<rect x="292" y="453" width="1" height="2" fill="#444"/>
<rect x="292" y="455" width="1" height="1" fill="#aaa"/>
<rect x="340" y="453" width="1" height="2" fill="#444"/>
<rect x="340" y="455" width="1" height="1" fill="#aaa"/>
<rect x="388" y="453" width="1" height="2" fill="#444"/>
<rect x="388" y="455" width="1" height="1" fill="#aaa"/>
<rect x="436" y="453" width="1" height="2" fill="#444"/>
<rect x="436" y="455" width="1" height="1" fill="#aaa"/>
<rect x="484" y="453" width="1" height="2" fill="#444"/>
<rect x="484" y="455" width="1" height="1" fill="#aaa"/>
<rect x="532" y="453" width="1" height="2" fill="#444"/>
<rect x="532" y="455" width="1" height="1" fill="#aaa"/>
<rect x="580" y="453" width="1" height="2" fill="#444"/>
<rect x="580" y="455" width="1" height="1" fill="#aaa"/>
<rect x="628" y="453" width="1" height="2" fill="#444"/>
<rect x="628" y="455" width="1" height="1" fill="#aaa"/>
<rect x="676" y="453" width="1" height="2" fill="#444"/>
<rect x="676" y="455" width="1" height="1" fill="#aaa"/>
<rect x="724" y="453" width="1" height="2" fill="#444"/>
<rect x="724" y="455" width="1" height="1" fill="#aaa"/>
<rect x="772" y="453" width="1" height="2" fill="#444"/>
<rect x="772" y="455" width="1" height="1" fill="#aaa"/>
<polygon points="6,8 11.5,8 8.75,11.5" fill="#000"/>
</svg>
<div class="pl" style="top:1.2000000000000002px">150.070</div>
<div class="pl" style="top:26.2px">149.470</div>
<div class="pl" style="top:51.2px">148.870</div>
<div class="pl" style="top:76.2px">148.255</div>
<div class="pl" style="top:100.2px">147.655</div>
<div class="pl" style="top:125.2px">147.055</div>
<div class="pl" style="top:150.2px">146.455</div>
<div class="pl" style="top:175.2px">145.855</div>
<div class="pl" style="top:200.2px">145.255</div>
<div class="pl" style="top:224.2px">144.640</div>
<div class="pl" style="top:249.2px">144.040</div>
<div class="pl" style="top:274.2px">143.440</div>
<div class="pl" style="top:299.2px">142.840</div>
<div class="pl" style="top:324.2px">142.240</div>
<div class="pl" style="top:348.2px">141.640</div>
<div class="pl" style="top:373.2px">141.025</div>
<div class="pl" style="top:398.2px">140.425</div>
<div class="pl" style="top:423.2px">139.825</div>
<div class="pl" style="top:447.2px">139.225</div>
<div class="pl cur" style="top:80.4px">148.129</div>
<div class="tl" style="left:3px">27 Dec 2023</div>
<div class="tl" style="left:51px">28 Dec 20:00</div>
<div class="tl" style="left:99px">2 Jan 04:00</div>
<div class="tl" style="left:147px">3 Jan 12:00</div>
<div class="tl" style="left:195px">4 Jan 20:00</div>
<div class="tl" style="left:243px">8 Jan 04:00</div>
<div class="tl" style="left:291px">9 Jan 12:00</div>
<div class="tl" style="left:339px">10 Jan 20:00</div>
<div class="tl" style="left:387px">12 Jan 04:00</div>
<div class="tl" style="left:435px">15 Jan 12:00</div>
<div class="tl" style="left:483px">16 Jan 20:00</div>
<div class="tl" style="left:531px">18 Jan 04:00</div>
<div class="tl" style="left:579px">19 Jan 12:00</div>
<div class="tl" style="left:627px">22 Jan 20:00</div>
<div class="tl" style="left:675px">24 Jan 04:00</div>
<div class="tl" style="left:723px">25 Jan 12:00</div>
<div class="tl" style="left:771px">26 Jan 20:00</div>
<div class="title">USDJPY,H4&nbsp; 147.990 148.200 147.961 148.129</div>
</div></body></html>
